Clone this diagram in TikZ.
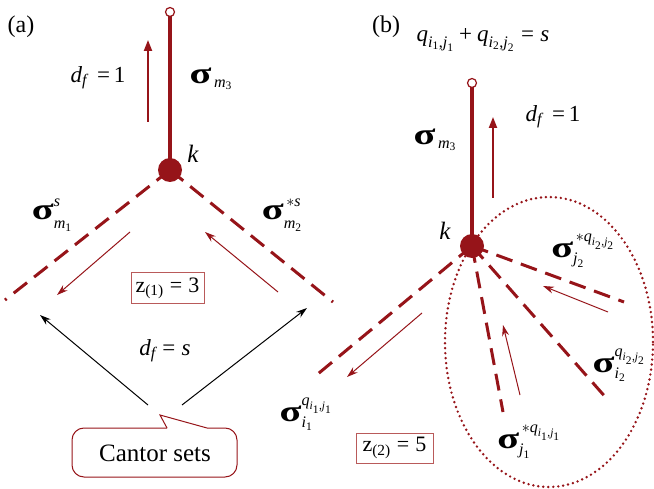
\RequirePackage{fix-cm}
\documentclass[tikz,border=0pt]{standalone}
\usepackage{amsmath}
\usepackage{graphicx}
\usepackage{fontspec}
\setmainfont{Liberation Serif}
\usetikzlibrary{arrows.meta}
\definecolor{dred}{RGB}{150,20,25}
\definecolor{bred}{RGB}{185,90,90}
\newcommand\I[1]{\text{\itshape #1}}
\newcommand\Sg{\text{\scalebox{1.75}[1.3]{\bfseries σ}}}
\newcommand\Eq{\mathrel{\text{=}}}
\newcommand\Up[1]{\raisebox{4pt}{$\scriptstyle #1$}}
\newcommand\Dn[1]{\raisebox{-3pt}{$\scriptstyle #1$}}
\begin{document}
\begin{tikzpicture}[x=1pt,y=-1pt,
  lab/.style={inner sep=0pt,font=\fontsize{23}{26}\selectfont},
  big/.style={inner sep=0pt,font=\fontsize{24}{28}\selectfont},
  stem/.style={dred,line width=3.5pt},
  opn/.style={circle,draw=dred,fill=white,line width=1.2pt,minimum size=9pt,inner sep=0pt},
  knot/.style={circle,fill=dred,minimum size=24pt,inner sep=0pt},
  dsh/.style={dred,line width=3pt,dash pattern=on 17pt off 9pt},
  uparr/.style={dred,line width=2pt,-{Triangle[length=11pt,width=8pt]}},
  thinr/.style={dred,line width=1pt,-{Stealth[length=11pt,width=7pt]}},
  thinb/.style={black,line width=1pt,-{Stealth[length=11pt,width=7pt]}},
  zbox/.style={draw=bred,line width=1pt,inner sep=3pt,font=\fontsize{22}{24}\selectfont},
  cal/.style={draw=dred,line width=1pt}]
\useasboundingbox (0,0) rectangle (654,489);
% ---------- (a) ----------
\node[big] (la) at (21,27) {(a)};
\coordinate (ta) at (170,12);
\coordinate (kpa) at (170,170);
\coordinate (ea1) at (5,300);
\coordinate (ea2) at (333,302);
\draw[stem] (ta) -- (kpa);
\draw[dsh] (kpa) -- (ea1);
\draw[dsh] (kpa) -- (ea2);
\node[knot] (ka) at (kpa) {};
\node[opn] (oa) at (ta) {};
\coordinate (ua1) at (148,122); \coordinate (ua2) at (148,40);
\draw[uparr] (ua1) -- (ua2);
\node[lab] (dfa) at (98,78) {$\I{d}_{\I{f}}\;\,\text{=}\,\text{1}$};
\node[lab] (sm3a) at (211,79) {$\Sg_{\,\I{m}_{\text{3}}}$};
\node[lab,font=\fontsize{25}{28}\selectfont] (kla) at (193,154) {$\I{k}$};
\node[lab] (sm1) at (52,215) {$\Sg^{\Up{\I{s}}}_{\Dn{\I{m}_{\text{1}}}}$};
\node[lab] (sm2) at (282,215) {$\Sg^{\Up{\,*\I{s}}}_{\Dn{\I{m}_{\text{2}}}}$};
\coordinate (ra1) at (130,232); \coordinate (ra2) at (57,295);
\coordinate (rb1) at (278,292); \coordinate (rb2) at (205,232);
\draw[thinr] (ra1) -- (ra2);
\draw[thinr] (rb1) -- (rb2);
\node[zbox,minimum width=73pt,minimum height=31pt] (z1) at (167.5,288.5) {$\text{z}_{\text{(1)}}\Eq\text{3}$};
\coordinate (ba0) at (148,405); \coordinate (ba1) at (40,315);
\coordinate (bb0) at (182,405); \coordinate (bb1) at (307,308);
\draw[thinb] (ba0) -- (ba1);
\draw[thinb] (bb0) -- (bb1);
\node[lab] (dfs) at (165,351) {$\I{d}_{\I{f}}\Eq\I{s}$};
\node[big,font=\fontsize{25}{28}\selectfont] (cantor) at (155,453) {Cantor sets};
\draw[cal] (167,428) -- (160,415) -- (207,428);
\draw[cal,rounded corners=12pt] (207,428) -- (237,428) -- (237,477) -- (72,477) -- (72,428) -- (167,428);
% ---------- (b) ----------
\node[big] (lb) at (386,27) {(b)};
\node[lab] (qeq) at (483,40) {$\I{q}_{\I{i}_{\text{1}}\text{,}\I{j}_{\text{1}}}\mathbin{\text{+}}\I{q}_{\I{i}_{\text{2}}\text{,}\I{j}_{\text{2}}}\Eq\I{s}$};
\coordinate (tb) at (472,83);
\coordinate (kpb) at (472,246);
\coordinate (eb1) at (313,378);
\coordinate (eb2) at (503,412);
\coordinate (eb3) at (608,400);
\coordinate (eb4) at (624,302);
\draw[dred,line width=2.7pt,line cap=round,dash pattern=on 0pt off 5pt] (549,342) ellipse [x radius=104pt,y radius=145pt];
\draw[stem] (tb) -- (kpb);
\draw[dsh] (kpb) -- (eb1);
\draw[dsh] (kpb) -- (eb2);
\draw[dsh] (kpb) -- (eb3);
\draw[dsh] (kpb) -- (eb4);
\node[knot] (kb) at (kpb) {};
\node[opn] (ob) at (tb) {};
\coordinate (ub1) at (493,198); \coordinate (ub2) at (493,117);
\draw[uparr] (ub1) -- (ub2);
\node[lab] (sm3b) at (435,140) {$\Sg_{\,\I{m}_{\text{3}}}$};
\node[lab] (dfb) at (553,117) {$\I{d}_{\I{f}}\;\,\text{=}\,\text{1}$};
\node[lab,font=\fontsize{25}{28}\selectfont] (klb) at (445,231) {$\I{k}$};
\coordinate (rc1) at (422,313); \coordinate (rc2) at (347,377);
\coordinate (rd1) at (520,395); \coordinate (rd2) at (503,325);
\coordinate (re1) at (608,312); \coordinate (re2) at (543,286);
\draw[thinr] (rc1) -- (rc2);
\draw[thinr] (rd1) -- (rd2);
\draw[thinr] (re1) -- (re2);
\node[lab] (si1) at (306,414) {$\Sg^{\I{q}_{\I{i}_{\text{1}}\text{,}\I{j}_{\text{1}}}}_{\I{i}_{\text{1}}}$};
\node[lab] (sj2) at (583,251) {$\Sg^{\,*\I{q}_{\I{i}_{\text{2}}\text{,}\I{j}_{\text{2}}}}_{\I{j}_{\text{2}}}$};
\node[lab] (si2) at (619,365) {$\Sg^{\I{q}_{\I{i}_{\text{2}}\text{,}\I{j}_{\text{2}}}}_{\I{i}_{\text{2}}}$};
\node[lab] (sj1) at (529,442) {$\Sg^{\,*\I{q}_{\I{i}_{\text{1}}\text{,}\I{j}_{\text{1}}}}_{\I{j}_{\text{1}}}$};
\node[zbox,minimum width=77pt,minimum height=30pt] (z2) at (394.5,448) {$\text{z}_{\text{(2)}}\Eq\text{5}$};
\end{tikzpicture}
\end{document}
